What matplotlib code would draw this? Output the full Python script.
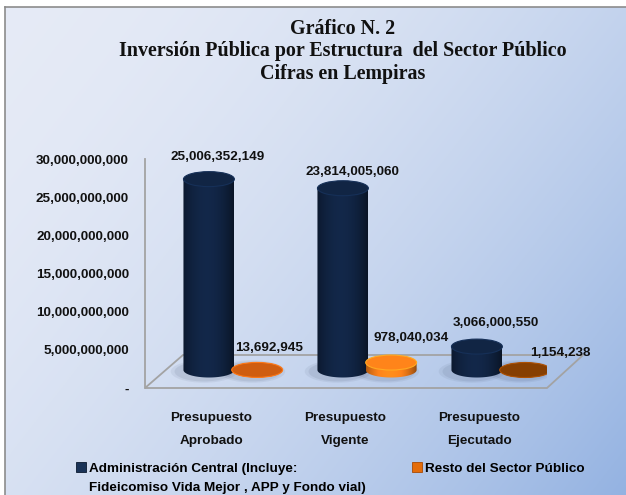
import numpy as np
import matplotlib
matplotlib.use("Agg")
import matplotlib.pyplot as plt
import matplotlib.patches as mpatches
import matplotlib.transforms as mtransforms
from matplotlib.ticker import FuncFormatter

# data
categories = ["Presupuesto\nAprobado", "Presupuesto\nVigente", "Presupuesto\nEjecutado"]
admin_central = [25006352149, 23814005060, 3066000550]
resto_sector = [13692945, 978040034, 1154238]
series_names = ["Administración Central (Incluye:\nFideicomiso Vida Mejor , APP y Fondo vial)",
                "Resto del Sector Público"]
title_lines = ["Gráfico N. 2",
               "Inversión Pública por Estructura  del Sector Público",
               "Cifras en Lempiras"]
y_ticks = [0, 5e9, 10e9, 15e9, 20e9, 25e9, 30e9]

plt.rcParams["font.family"] = ["Liberation Sans", "DejaVu Sans"]
plt.rcParams["font.weight"] = "bold"
FS = 9.7
W, H = 626, 495
admin_color = "#10223f"
resto_color = "#e46c0a"


def fmt(v, pos=None):
    return "-" if v == 0 else f"{v:,.0f}"


def shade(rgb, k):
    return tuple(np.clip(np.array(rgb) * k, 0, 1))


fig = plt.figure(figsize=(W / 100, H / 100), dpi=100)
fig.patch.set_facecolor("white")

# background gradient with thin border on top/left
bg = fig.add_axes([5 / W, 0, 1 - 5 / W, 1 - 7 / H], zorder=0)
gx, gy = np.meshgrid(np.linspace(0, 1, 300), np.linspace(0, 1, 240))
t = np.clip(0.62 * gx + 0.38 * gy, 0, 1) ** 1.8
c0 = np.array([0.90, 0.92, 0.965])
c1 = np.array([0.58, 0.70, 0.885])
img = c0[None, None, :] * (1 - t[..., None]) + c1[None, None, :] * t[..., None]
bg.imshow(img, extent=(0, 1, 0, 1), origin="upper", aspect="auto")
bg.set_xlim(0, 1)
bg.set_ylim(0, 1)
bg.set_xticks([])
bg.set_yticks([])
for s in ["right", "bottom"]:
    bg.spines[s].set_visible(False)
for s in ["top", "left"]:
    bg.spines[s].set_color("#8c8c8c")
    bg.spines[s].set_linewidth(1.2)

fig.text(343 / W, 1 - 19 / H, "\n".join(title_lines), ha="center", va="top",
         family="Liberation Serif", fontweight="bold", fontsize=14.4,
         linespacing=1.16, color="#111111")

# main plotting area
ax = fig.add_axes([145 / W, 1 - 388 / H, 402 / W, 229 / H], zorder=1)
ax.patch.set_alpha(0)
ax.set_xlim(-0.657, 2.343)
ax.set_ylim(0, 30e9)

x = np.arange(len(categories))
bw = 0.38
x_admin = x - 0.18
x_resto = x + 0.18

# bars sit in the middle of the floor depth
base = ax.transData + mtransforms.ScaledTranslation(0, 0.18, fig.dpi_scale_trans)
cap_h = 15 * 30e9 / 229

# floor
dx, dy = 38 / 402, 33 / 229
floor = mpatches.Polygon([(0, 0), (1, 0), (1 + dx * 0.95, dy), (dx, dy)], closed=True,
                         transform=ax.transAxes, facecolor="none", edgecolor="#a3a3a3",
                         lw=1.3, clip_on=False, zorder=1)
ax.add_patch(floor)

b_admin = ax.bar(x_admin, admin_central, bw, color=admin_color, label=series_names[0],
                 transform=base, zorder=3)
b_resto = ax.bar(x_resto, resto_sector, bw, color=resto_color, label=series_names[1],
                 transform=base, zorder=3)

admin_light = ["#10223f", "#10223f", "#10223f"]
resto_light = ["#c0560f", "#f07a18", "#7c3a02"]


def cylinder(rect, col, z):
    xc = rect.get_x() + rect.get_width() / 2
    w = rect.get_width()
    h = rect.get_height()
    rgb = np.array(matplotlib.colors.to_rgb(col))
    # soft shadow at the base
    for k, a in [(1.3, 0.07), (1.15, 0.09)]:
        ax.add_patch(mpatches.Ellipse((xc - w * 0.1, -cap_h * 0.1), w * k, cap_h * k * 1.15,
                                      transform=base, facecolor="#34405c", alpha=a,
                                      edgecolor="none", zorder=2))
    # silhouette used to clip the shaded body
    th = np.linspace(np.pi, 2 * np.pi, 60)
    pts = [(xc + w / 2 * np.cos(a), cap_h / 2 * np.sin(a)) for a in th]
    pts += [(xc + w / 2, h), (xc - w / 2, h)]
    sil = mpatches.Polygon(pts, closed=True, transform=base)
    u = np.linspace(0, 1, 64)
    prof = 0.72 + 0.5 * np.sin(np.pi * u) ** 0.8 - 0.12 * u
    body = np.clip(rgb[None, None, :] * prof[None, :, None], 0, 1)
    im = ax.imshow(body, extent=(xc - w / 2, xc + w / 2, -cap_h / 2, max(h, 1)),
                   transform=base, aspect="auto", interpolation="bilinear", zorder=z)
    im.set_clip_path(sil)
    rect.set_visible(False)
    ax.add_patch(mpatches.Ellipse((xc, h), w, cap_h, transform=base,
                                  facecolor=shade(rgb, 1.08), edgecolor=shade(rgb, 1.4),
                                  lw=0.8, zorder=z + 0.1))


for r, c in zip(b_admin, admin_light):
    cylinder(r, c, 4)
for r, c in zip(b_resto, resto_light):
    cylinder(r, c, 4)

# data labels (offsets in pixels from the cylinder top)
admin_off = [(8.5, 22.5), (10, 16), (18.5, 23.5)]
resto_off = [(11.5, 22), (20, 24.5), (35.5, 17)]
for xs, vals, offs in [(x_admin, admin_central, admin_off), (x_resto, resto_sector, resto_off)]:
    for xi, v, (ox, oy) in zip(xs, vals, offs):
        ax.annotate(fmt(v), (xi, v), xycoords=base, xytext=(ox * 0.72, oy * 0.72),
                    textcoords="offset points", ha="center", va="center",
                    fontsize=FS, fontweight="bold", color="#111111", zorder=6)

ax.set_yticks(y_ticks)
ax.yaxis.set_major_formatter(FuncFormatter(fmt))
ax.set_xticks(x_admin + 0.02)
ax.set_xticklabels(categories, linespacing=2.15)
ax.tick_params(axis="y", length=0, pad=11.5, labelsize=FS)
ax.tick_params(axis="x", length=0, pad=17.5, labelsize=FS)
for lab in ax.get_xticklabels() + ax.get_yticklabels():
    lab.set_fontweight("bold")
    lab.set_color("#111111")
for s in ["top", "right", "bottom"]:
    ax.spines[s].set_visible(False)
ax.spines["left"].set_color("#a3a3a3")
ax.spines["left"].set_linewidth(1.3)

# legend: first label is split over two rows
h_admin = mpatches.Rectangle((0, 0), 1, 1, facecolor="#1a3358", edgecolor="#0b1a30", lw=0.6)
h_resto = mpatches.Rectangle((0, 0), 1, 1, facecolor=resto_color, edgecolor="#a84a05", lw=0.6)
blank = mpatches.Rectangle((0, 0), 1, 1, alpha=0)
lines0 = series_names[0].split("\n")
fig.legend([h_admin, blank, h_resto], [lines0[0], lines0[1], series_names[1]],
           ncol=2, loc="upper left", bbox_to_anchor=(76 / W, 1 - 462 / H),
           frameon=False, prop={"weight": "bold", "size": FS},
           handlelength=0.75, handleheight=0.75, handletextpad=0.25,
           columnspacing=3.37, labelspacing=0.5, borderpad=0, borderaxespad=0)

fig.savefig("out.png", dpi=100)
